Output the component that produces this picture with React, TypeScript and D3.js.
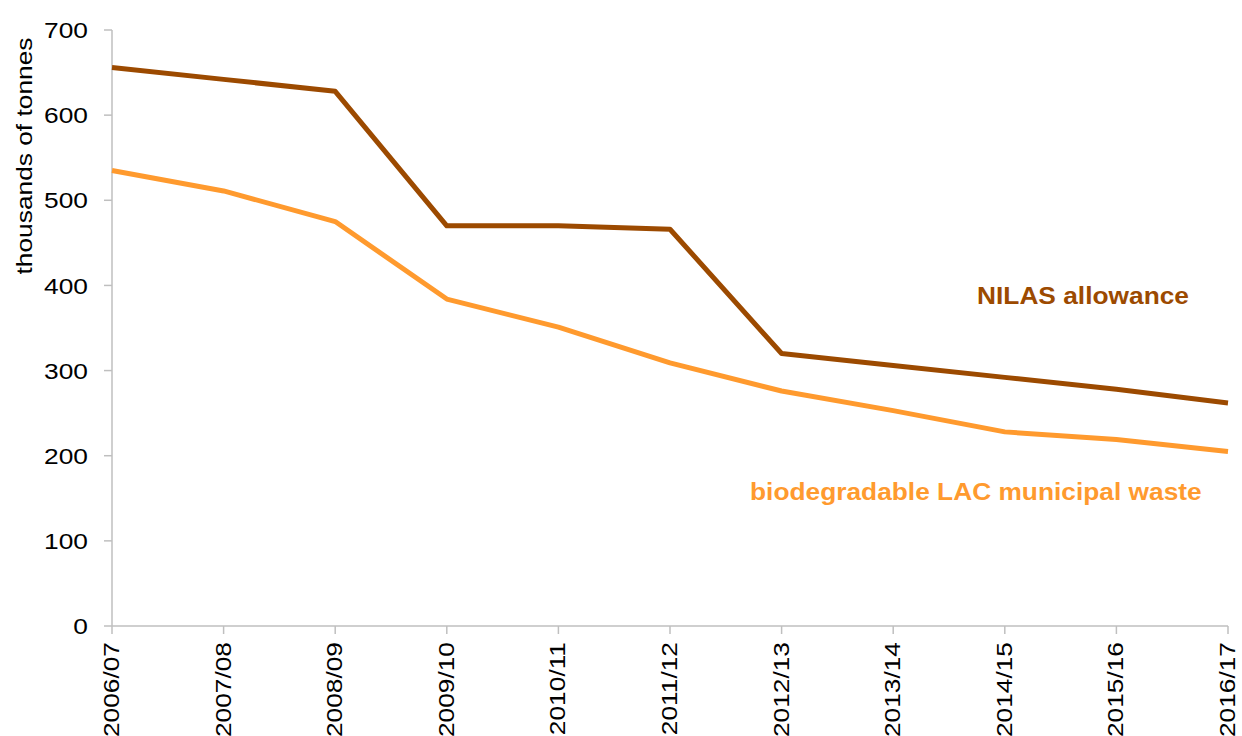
import React from "react";
import * as d3 from "d3";

const years = ["2006/07","2007/08","2008/09","2009/10","2010/11","2011/12","2012/13","2013/14","2014/15","2015/16","2016/17"];
const nilas = [656, 642, 628, 470, 470, 466, 320, 306, 292, 278, 262];
const lac = [535, 511, 475, 384, 351, 309, 276, 253, 228, 219, 205];
const yTicks = [0, 100, 200, 300, 400, 500, 600, 700];

const W = 1242, H = 736;
const left = 112, right = 1228, top = 30, bottom = 626;
const font = "'Liberation Sans', Arial, sans-serif";
const FS = 22.5;
const SX = 1.17;
const LFS = 23.5;
const LSX = 1.12;

export default function App() {
  const x = d3.scalePoint<string>().domain(years).range([left, right]);
  const y = d3.scaleLinear().domain([0, 700]).range([bottom, top]);
  const line = d3.line<number>().x((_, i) => x(years[i])!).y(d => y(d));
  const axisColor = "#BFBFBF";
  return (
    <svg width={W} height={H} style={{ position: "absolute", left: 0, top: 0, background: "#fff" }} fontFamily={font}>
      <line x1={left} x2={left} y1={top} y2={bottom} stroke={axisColor} strokeWidth={1.5} />
      <line x1={left} x2={right} y1={bottom} y2={bottom} stroke={axisColor} strokeWidth={1.5} />
      {yTicks.map(t => (
        <g key={t}>
          <line x1={left - 8} x2={left} y1={y(t)} y2={y(t)} stroke={axisColor} strokeWidth={1.5} />
          <text transform={`translate(88,${y(t)}) scale(${SX},1)`} dy="0.36em" textAnchor="end" fontSize={FS} fill="#000">{t}</text>
        </g>
      ))}
      {years.map(yr => (
        <g key={yr}>
          <line x1={x(yr)} x2={x(yr)} y1={bottom} y2={bottom + 8} stroke={axisColor} strokeWidth={1.5} />
          <text transform={`translate(${x(yr)! + 7},642) rotate(-90) scale(${SX},1)`} textAnchor="end" fontSize={FS} fill="#000">{yr}</text>
        </g>
      ))}
      <text transform={`translate(32,156) rotate(-90) scale(${SX},1)`} textAnchor="middle" fontSize={FS} fill="#000">thousands of tonnes</text>
      <path d={line(nilas)!} fill="none" stroke="#9C4A00" strokeWidth={5} strokeLinejoin="round" />
      <path d={line(lac)!} fill="none" stroke="#FF9A2E" strokeWidth={5} strokeLinejoin="round" />
      <text transform={`translate(977,304) scale(${LSX},1)`} fontSize={LFS} fontWeight="bold" fill="#9C4A00">NILAS allowance</text>
      <text transform={`translate(750,500) scale(${LSX},1)`} fontSize={LFS} fontWeight="bold" fill="#FF9A2E">biodegradable LAC municipal waste</text>
    </svg>
  );
}
